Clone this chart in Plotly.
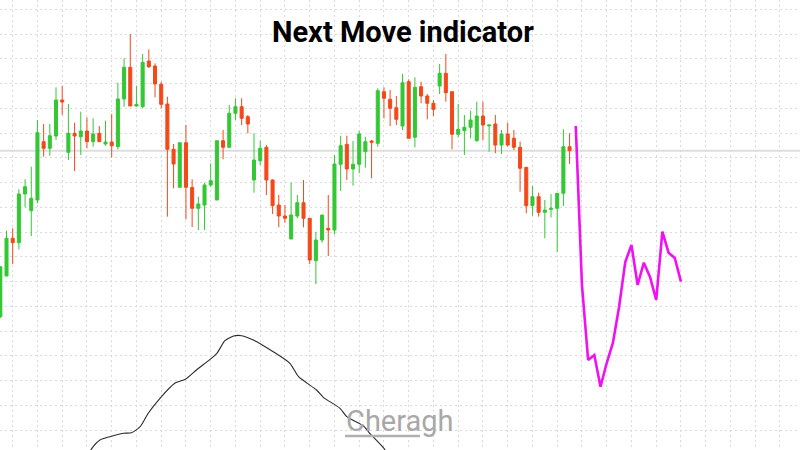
import plotly.graph_objects as go

# ---- candle data (arbitrary price units) ----
candle_idx = list(range(93))
opens = [133.3, 174, 211.7, 207.3, 256, 239.3, 250, 308.3, 301.7, 314,
         350, 297.7, 316.7, 313.3, 319, 308.3, 316.7, 306, 308, 303.3,
         351, 382.7, 344, 343.3, 389, 384, 365.7, 346, 300.7, 262.7,
         307.3, 262.5, 241.7, 245, 265, 250, 309.3, 302.7, 336.7, 343.3,
         333.3, 270, 289.3, 302.7, 270, 245, 234, 211, 234, 247.3,
         231.7, 189.3, 210, 221.7, 220, 285.7, 305.7, 281, 285.7, 298.3,
         309, 306.7, 358.3, 350.7, 342.3, 324, 368.3, 312.7, 363.3, 354,
         346.7, 364, 376.7, 358.3, 315.7, 319.3, 322.7, 309.3, 334, 324,
         326, 305, 316, 311.7, 302.7, 282.7, 244.3, 253.3, 237.7, 240.7,
         241.7, 256.7, 303.3]
highs = [183.3, 219.3, 221.7, 260.7, 270.7, 283.3, 330, 326, 326, 362.7,
         364, 346, 327.3, 338.3, 332.7, 331.7, 324, 329.3, 336, 367.3,
         391.7, 416, 364, 396, 400.7, 386.7, 368.3, 353.3, 306, 307.3,
         325, 270.7, 253.3, 267.3, 286.7, 309.3, 320, 345, 351.7, 351.7,
         335, 316.7, 309.3, 305, 270.7, 255, 245, 267.3, 255, 270,
         232, 218.3, 235, 255, 295, 314.3, 314.3, 309, 319, 313.3,
         310, 361.7, 362.7, 360, 354, 376, 370.7, 372.7, 368.3, 356,
         350, 386, 396, 358.3, 346, 335, 339.3, 348.3, 348.3, 325,
         335, 320, 327.3, 320, 308.3, 282.7, 264, 257.3, 250, 256,
         256.7, 320.7, 316.7]
lows = [132, 174, 186, 200.7, 242.7, 214, 246.7, 293.3, 294.3, 310,
        335, 290, 279, 295, 301.7, 303.3, 308.3, 304.3, 292.7, 300.7,
        343.3, 344, 343.3, 341.7, 382, 352.7, 341.7, 233.3, 261.7, 262.7,
        230.7, 223, 220, 220, 263.3, 250, 290.7, 302.7, 330, 325,
        316.7, 257.3, 285, 255, 236, 222.7, 227.3, 211, 231.7, 222.7,
        186, 166, 207.3, 194, 215.7, 259, 270, 264.3, 276.7, 282.3,
        271.7, 303.3, 331.7, 324, 325, 320, 311.7, 302.7, 346.7, 330.7,
        334, 356, 348.3, 300.7, 312.7, 295, 311.7, 308.3, 310, 298.3,
        296.7, 296, 303.3, 300, 258.3, 236.7, 234.3, 233.3, 211.7, 232.7,
        198, 244, 286]
closes = [183.3, 211.7, 207.3, 256, 263.3, 251.7, 317.3, 301.7, 314.3, 350,
          348, 316.7, 314, 319, 308.3, 316, 308.3, 308, 304.3, 351,
          382.7, 344, 345.7, 387.7, 383.3, 366, 345.7, 300.7, 286, 307.3,
          262.7, 241.7, 246, 265, 269.3, 309.3, 302.7, 336.7, 343.3, 331.7,
          326, 290, 301.7, 270, 244.3, 234, 231.7, 235, 247.3, 231.7,
          190, 210, 235, 220, 286, 304.3, 281, 285.7, 316, 308.3,
          307.7, 359.3, 351.7, 341.7, 330.7, 367.3, 311.7, 362.7, 354, 346.7,
          340.7, 376.7, 357.3, 315.7, 320.7, 322.7, 330, 334, 325, 325,
          305, 316, 305, 302.7, 281.7, 244.3, 253.3, 237.7, 240, 241.7,
          256.7, 303.3, 299.3]

# ---- Next Move forecast (magenta) ----
move_idx = [93, 94, 95, 96, 97, 98, 99, 100, 101, 102, 103, 104, 105, 106,
            107, 108, 109, 110]
move_val = [324, 165, 90, 95, 63.3, 87, 107, 143, 188, 205, 165, 187.3, 173,
            150, 218.3, 197.3, 192, 168.3]

# ---- slow indicator line (black) ----
ind_idx = [14.3, 14.8, 16.1, 17.7, 19.9, 21.2, 22.6, 23.9, 25.8, 28.2, 29.9,
           31.7, 33.9, 35.0, 36.3, 37.7, 39.0, 40.9, 44.1, 46.8, 48.2, 51.1,
           52.2, 54.9, 56.0, 58.7, 59.7, 61.9, 62.5]
ind_val = [-4, 1.7, 10, 13.3, 16.7, 17.3, 23.3, 36.7, 51.7, 66.7, 70.7,
           80, 90.7, 96.7, 109.3, 114, 114.3, 110, 98.3, 86.7, 73.3, 60,
           52.7, 41.7, 33.3, 24, 16.7, 2.3, -3]

title_text = "Next Move indicator"
watermark_text = "Cheragh"

GREEN = "#34c734"
RED = "#f4481a"

fig = go.Figure()

fig.add_trace(go.Candlestick(
    x=candle_idx, open=opens, high=highs, low=lows, close=closes,
    increasing=dict(line=dict(color=GREEN, width=1), fillcolor=GREEN),
    decreasing=dict(line=dict(color=RED, width=1), fillcolor=RED),
    whiskerwidth=0, showlegend=False, hoverinfo="skip",
))

fig.add_trace(go.Scatter(
    x=ind_idx, y=ind_val, mode="lines",
    line=dict(color="#2b2b2b", width=1.1, shape="spline", smoothing=0.6),
    showlegend=False, hoverinfo="skip",
))

fig.add_trace(go.Scatter(
    x=move_idx, y=move_val, mode="lines",
    line=dict(color="#f010f0", width=2.6),
    showlegend=False, hoverinfo="skip",
))

# current-price line
fig.add_shape(type="line", xref="paper", x0=0, x1=1, yref="y",
              y0=closes[-1], y1=closes[-1],
              line=dict(color="#dedede", width=2), layer="below")

# watermark underline
fig.add_shape(type="line", xref="paper", yref="paper",
              x0=345 / 800, x1=420 / 800, y0=1 - 436 / 450, y1=1 - 436 / 450,
              line=dict(color="#b0b0b0", width=2.5))

fig.add_annotation(text=f"<b>{title_text}</b>", xref="paper", yref="paper",
                   x=403 / 800, y=1 - 32 / 450, xanchor="center", yanchor="middle",
                   showarrow=False,
                   font=dict(family="Roboto", size=29, color="#000000"))

fig.add_annotation(text=watermark_text, xref="paper", yref="paper",
                   x=400 / 800, y=1 - 421 / 450, xanchor="center", yanchor="middle",
                   showarrow=False,
                   font=dict(family="Roboto", size=29, color="#a8a8a8"))

grid = dict(showgrid=True, gridcolor="#d9d9d9", gridwidth=1, griddash="2px,3px",
            showticklabels=False, zeroline=False, showline=False, ticks="")

fig.update_layout(
    width=800, height=450,
    margin=dict(l=0, r=0, t=0, b=0),
    paper_bgcolor="white", plot_bgcolor="white",
    xaxis=dict(range=[-0.053, 129.24], tick0=2, dtick=4,
               rangeslider=dict(visible=False), **grid),
    yaxis=dict(range=[0, 450], tick0=19.95, dtick=24.75, **grid),
    showlegend=False,
)

fig.write_html("out.html",
               config={"displayModeBar": False},
               post_script="document.body.style.margin='0';"
                           "document.body.style.overflow='hidden';")
